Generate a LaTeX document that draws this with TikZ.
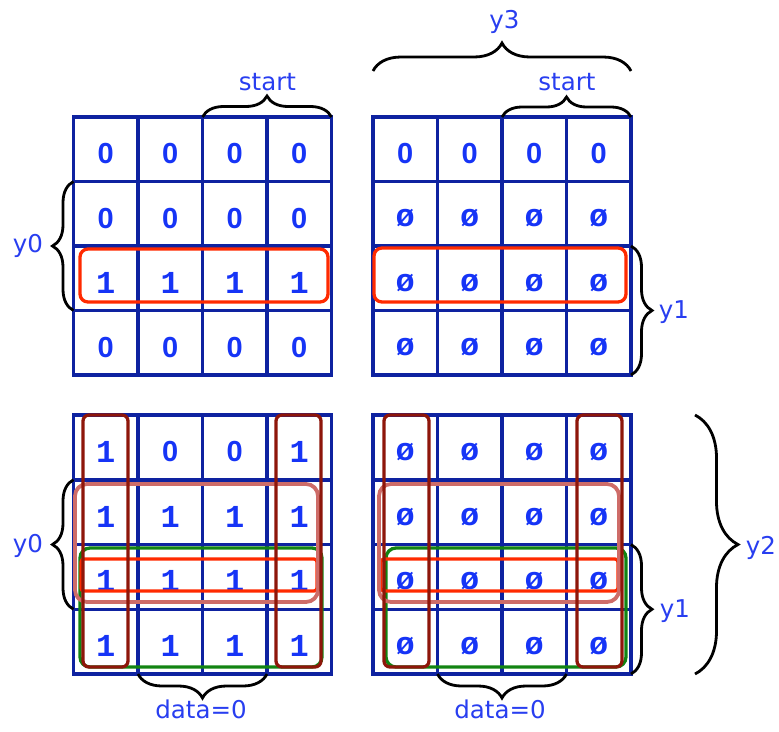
\documentclass[tikz,border=0pt]{standalone}
\usepackage{fontspec}
\setmainfont{DejaVu Sans}
\newfontfamily\cellfont{Liberation Mono}
\newfontfamily\zerofont{Liberation Sans}
\usetikzlibrary{decorations.pathreplacing}

\definecolor{gridblue}{RGB}{14,34,160}
\definecolor{digitblue}{RGB}{22,52,246}
\definecolor{labelblue}{RGB}{40,62,240}
\definecolor{grpred}{RGB}{255,42,0}
\definecolor{grpmaroon}{RGB}{142,22,10}
\definecolor{grppink}{RGB}{206,108,104}
\definecolor{grpgreen}{RGB}{18,132,18}

% plain (undotted) zero for the map cells
\newcommand\zz{{\zerofont\bfseries\fontsize{29}{29}\selectfont 0}}

\tikzset{
  gridline/.style={draw=gridblue, line width=3.5pt, line cap=rect},
  cell/.style={text=digitblue, font=\cellfont\bfseries\fontsize{32}{32}\selectfont, inner sep=0pt},
  lbl/.style={text=labelblue, font=\fontsize{24.5}{26}\selectfont, anchor=base, inner sep=0pt},
  curly/.style={draw=black, line width=2.8pt, decorate, decoration={brace, amplitude=#1}},
  loop/.style={line width=3.3pt, rounded corners=#1},
}

% one Karnaugh map: name, left x, top y, row height, 16 entries row by row
\newcommand\kmap[5]{%
  \foreach \kk in {0,...,4} {
    \foreach \jj in {0,...,4} {
      \coordinate (#1-x\kk-y\jj) at ({#2+\kk*64.5},{#3+\jj*#4});
    }
    \draw[gridline] ({#2+\kk*64.5},#3) -- ({#2+\kk*64.5},{#3+4*#4});
    \draw[gridline] (#2,{#3+\kk*#4}) -- ({#2+4*64.5},{#3+\kk*#4});
  }
  \foreach \vv [count=\nn from 0] in {#5} {
    \pgfmathtruncatemacro\kr{int(\nn/4)}
    \pgfmathtruncatemacro\kc{mod(\nn,4)}
    \node[cell] (#1-\kr-\kc) at ({#2+(\kc+0.5)*64.5},{#3+(\kr+0.5)*#4+4.5}) {\vv};
  }
}

\begin{document}
\begin{tikzpicture}[x=1pt,y=-1pt]
\useasboundingbox (0,0) rectangle (779,731);

\kmap{tl}{73.5}{117}{64.5}{\zz,\zz,\zz,\zz, \zz,\zz,\zz,\zz, 1,1,1,1, \zz,\zz,\zz,\zz}
\kmap{tr}{373}{117}{64.5}{\zz,\zz,\zz,\zz, ø,ø,ø,ø, ø,ø,ø,ø, ø,ø,ø,ø}
\kmap{bl}{73.5}{415}{64.75}{1,\zz,\zz,1, 1,1,1,1, 1,1,1,1, 1,1,1,1}
\kmap{br}{373}{415}{64.75}{ø,ø,ø,ø, ø,ø,ø,ø, ø,ø,ø,ø, ø,ø,ø,ø}

% groupings, upper maps
\draw[loop=8pt, grpred] (80,249) rectangle (328,302);
\draw[loop=8pt, grpred] (374,248) rectangle (626,302);

% groupings, lower left map
\draw[loop=10pt, grpgreen] (80,548) rectangle (322,667);
\draw[loop=3pt, grpred] (81,559) rectangle (317,591);
\draw[loop=12pt, grppink, line width=3.8pt] (75,484) rectangle (318,602);
\draw[loop=6pt, grpmaroon] (83,415) rectangle (128,667);
\draw[loop=6pt, grpmaroon] (276,415) rectangle (321,667);

% groupings, lower right map
\draw[loop=10pt, grpgreen] (386,548) rectangle (626,667);
\draw[loop=3pt, grpred] (381,559) rectangle (618,591);
\draw[loop=12pt, grppink, line width=3.8pt] (379,484) rectangle (619,602);
\draw[loop=6pt, grpmaroon] (384,415) rectangle (429,667);
\draw[loop=6pt, grpmaroon] (577,415) rectangle (622,667);

% braces
\coordinate (y3a) at ([yshift=46pt]tr-x0-y0);
\coordinate (y3b) at ([yshift=46pt]tr-x4-y0);
\coordinate (y2a) at ([xshift=64pt]br-x4-y0);
\coordinate (y2b) at ([xshift=64pt]br-x4-y4);

\draw[curly=21pt] (tl-x2-y0) -- (tl-x4-y0);
\draw[curly=21pt] (tl-x0-y3) -- (tl-x0-y1);
\draw[curly=28pt] (y3a) -- (y3b);
\draw[curly=20pt] (tr-x2-y0) -- (tr-x4-y0);
\draw[curly=21pt] (tr-x4-y2) -- (tr-x4-y4);
\draw[curly=21pt] (bl-x0-y3) -- (bl-x0-y1);
\draw[curly=24pt] (bl-x3-y4) -- (bl-x1-y4);
\draw[curly=21pt] (br-x4-y2) -- (br-x4-y4);
\draw[curly=24pt] (br-x3-y4) -- (br-x1-y4);
\draw[curly=43pt] (y2a) -- (y2b);

% brace labels
\node[lbl] (lstart1) at (267.5,90) {start};
\node[lbl] (ly3) at (504.5,28) {y3};
\node[lbl] (lstart2) at (567,90) {start};
\node[lbl] (ly0a) at (28,252) {y0};
\node[lbl] (ly1a) at (674,318) {y1};
\node[lbl] (ly0b) at (28,552) {y0};
\node[lbl] (ldata1) at (201,718) {data=0};
\node[lbl] (ly1b) at (675,617) {y1};
\node[lbl] (ly2) at (761,554) {y2};
\node[lbl] (ldata2) at (500,718) {data=0};
\end{tikzpicture}
\end{document}
